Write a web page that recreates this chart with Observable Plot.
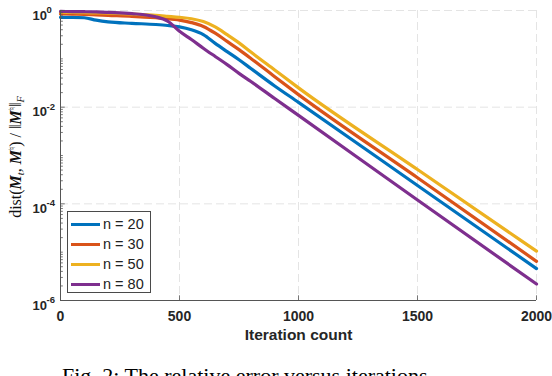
<!DOCTYPE html>
<html>
<head>
<meta charset="utf-8">
<script src="https://cdn.jsdelivr.net/npm/d3@7"></script>
<script src="https://cdn.jsdelivr.net/npm/@observablehq/plot@0.6"></script>
<style>
  html, body { margin: 0; padding: 0; background: #fff; }
  #wrap { position: relative; width: 552px; height: 376px; overflow: hidden; background: #fff; }
  #legend { position: absolute; left: 67px; top: 211px; width: 84px; height: 82px; box-sizing: border-box;
            border: 1px solid #4a4a4a; background: #fff; font-family: "Liberation Sans", Arial, sans-serif; font-size: 14.5px; color: #222; }
  .entry { position: absolute; left: 0; height: 20px; width: 84px; }
  .entry .sw { position: absolute; left: 3px; width: 29px; height: 3px; top: 9px; }
  .entry .lb { position: absolute; left: 35px; top: 1px; line-height: 18px; white-space: nowrap; }
  #caption { position: absolute; left: 62px; top: 363px; font-family: "Liberation Serif", "Times New Roman", serif; font-size: 22px; color: #000; white-space: nowrap; }
</style>
</head>
<body>
<div id="wrap">
  <div id="chart"></div>
  <div id="legend"></div>
  <div id="caption">Fig. 2: The relative error versus iterations.</div>
</div>
<script>
// ---- data ----
const seriesNames = ["n = 20", "n = 30", "n = 50", "n = 80"];
const seriesColors = ["#0072BD", "#D95319", "#EDB120", "#7E2F8E"];
const iterations = [0, 50, 100, 150, 200, 300, 400, 450, 500, 550, 600, 650, 700, 750, 800, 900, 1000, 1500, 2000];
const errN20 = [0.724, 0.724, 0.708, 0.631, 0.582, 0.543, 0.513, 0.490, 0.457, 0.398, 0.316, 0.209, 0.141, 0.0955, 0.0631, 0.0275, 0.0126, 2.40e-4, 4.57e-6];
const errN30 = [0.851, 0.841, 0.832, 0.813, 0.794, 0.759, 0.708, 0.676, 0.631, 0.562, 0.468, 0.339, 0.229, 0.155, 0.102, 0.0427, 0.0182, 3.47e-4, 6.46e-6];
const errN50 = [0.923, 0.912, 0.902, 0.891, 0.881, 0.841, 0.794, 0.759, 0.724, 0.676, 0.589, 0.457, 0.316, 0.214, 0.138, 0.0589, 0.0251, 5.13e-4, 1.05e-5];
const errN80 = [0.955, 0.951, 0.944, 0.933, 0.912, 0.861, 0.741, 0.603, 0.372, 0.251, 0.166, 0.112, 0.0759, 0.0501, 0.0339, 0.0151, 0.00676, 1.20e-4, 2.19e-6];
const xTicks = [0, 500, 1000, 1500, 2000];
const yTicks = [1, 1e-2, 1e-4, 1e-6];
const yTickExponents = ["0", "-2", "-4", "-6"];
const xLabel = "Iteration count";

// ---- build table ----
const allSeries = [errN20, errN30, errN50, errN80];
const rows = [];
allSeries.forEach((vals, s) => vals.forEach((v, i) => rows.push({series: seriesNames[s], iter: iterations[i], err: v})));
const yMinor = [];
for (let d = -6; d < 0; d++) for (let k = 1; k <= 9; k++) { const v = k * Math.pow(10, d); if (!yTicks.includes(v)) yMinor.push(v); }
const yTickRows = yTicks.map((v, i) => ({v, e: yTickExponents[i]}));

const font = "Liberation Sans, Arial, Helvetica, sans-serif";
const gridStyle = {stroke: "#e4e4e4", strokeOpacity: 1, strokeDasharray: "8,4", strokeWidth: 1};

const chart = Plot.plot({
  width: 552,
  height: 350,
  marginLeft: 60,
  marginRight: 16,
  marginTop: 10,
  marginBottom: 50,
  style: {fontFamily: font, background: "#fff", color: "#222"},
  x: {domain: [0, 2000], axis: null},
  y: {type: "log", domain: [1e-6, 1], axis: null},
  color: {domain: seriesNames, range: seriesColors},
  marks: [
    Plot.gridX(xTicks.filter(d => d > 0), gridStyle),
    Plot.gridY(yTicks.filter(d => d > 1e-6), gridStyle),
    Plot.line(rows, {x: "iter", y: "err", stroke: "series", z: "series", strokeWidth: 3.2, curve: "monotone-x"}),
    Plot.ruleX([0], {stroke: "#555", strokeWidth: 1}),
    Plot.ruleY([1e-6], {stroke: "#555", strokeWidth: 1}),
    Plot.ruleY(yMinor, {x1: 0, x2: 12, stroke: "#555", strokeWidth: 0.8}),
    Plot.ruleY(yTicks, {x1: 0, x2: 20, stroke: "#555", strokeWidth: 0.8}),
    Plot.ruleX(xTicks, {y1: 1e-6, y2: 1.25e-6, stroke: "#555", strokeWidth: 0.8}),
    Plot.text(xTicks, {x: d => d, y: 1e-6, text: d => String(d), dy: 16, fontSize: 14, fontWeight: "bold", fill: "#262626"}),
    Plot.text(yTickRows, {x: 0, y: "v", text: () => "10", dx: -28, dy: 5, textAnchor: "start", fontSize: 13, fontWeight: "bold", fill: "#262626"}),
    Plot.text(yTickRows, {x: 0, y: "v", text: "e", dx: -14, dy: -0.5, textAnchor: "start", fontSize: 9.5, fontWeight: "bold", fill: "#262626"}),
    Plot.text([xLabel], {frameAnchor: "bottom", dy: 39, fontSize: 15.5, fontWeight: "bold", fill: "#262626"})
  ]
});
document.getElementById("chart").appendChild(chart);

// y-axis label (math style)
const svg = d3.select(chart);
const lab = svg.append("text")
  .attr("transform", "translate(21,157) rotate(-90)")
  .attr("text-anchor", "middle")
  .attr("font-family", "Liberation Serif, Times New Roman, serif")
  .attr("font-size", 16)
  .attr("fill", "#111");
lab.append("tspan").text("dist(");
lab.append("tspan").attr("font-weight", "bold").attr("font-style", "italic").text("M");
lab.append("tspan").attr("font-style", "italic").attr("font-size", 10.5).attr("dy", 3).text("t");
lab.append("tspan").attr("dy", -3).text(", ");
lab.append("tspan").attr("font-weight", "bold").attr("font-style", "italic").text("M");
lab.append("tspan").attr("font-size", 9).attr("dy", -6).attr("font-family", "DejaVu Sans").text("\u266E");
lab.append("tspan").attr("dy", 6).text(") / \u2016");
lab.append("tspan").attr("font-weight", "bold").attr("font-style", "italic").text("M");
lab.append("tspan").attr("font-size", 9).attr("dy", -6).attr("font-family", "DejaVu Sans").text("\u266E");
lab.append("tspan").attr("dy", 6).text("\u2016");
lab.append("tspan").attr("font-style", "italic").attr("font-size", 10.5).attr("dy", 3).text("F");

// legend
const legend = document.getElementById("legend");
seriesNames.forEach((name, i) => {
  const e = document.createElement("div");
  e.className = "entry";
  e.style.top = (2 + i * 20) + "px";
  const sw = document.createElement("div");
  sw.className = "sw";
  sw.style.background = seriesColors[i];
  const lb = document.createElement("div");
  lb.className = "lb";
  lb.textContent = name;
  e.appendChild(sw); e.appendChild(lb);
  legend.appendChild(e);
});
</script>
</body>
</html>
